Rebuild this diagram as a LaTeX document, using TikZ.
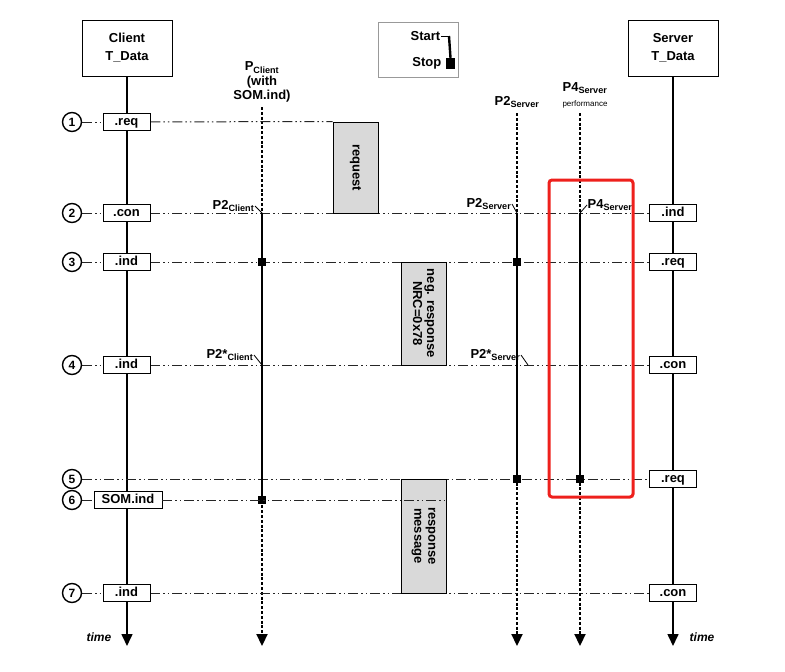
\documentclass[tikz,border=0pt]{standalone}
\usepackage{fontspec}
\setmainfont{Liberation Sans}
\usetikzlibrary{arrows.meta}
\usetikzlibrary{calc}

\definecolor{markred}{RGB}{238,32,28}

\pgfdeclarelayer{bg}
\pgfsetlayers{bg,main}

\tikzset{
  entity/.style={draw, fill=white, line width=0.8pt, minimum width=90pt, minimum height=56pt, align=center, font=\bfseries\fontsize{13}{18}\selectfont},
  prim/.style={draw, fill=white, line width=0.8pt, minimum width=47pt, minimum height=17pt, inner sep=1pt, text height=9.5pt, text depth=2.5pt, font=\bfseries\fontsize{13}{14}\selectfont},
  stepnum/.style={circle, draw, line width=1.4pt, minimum size=19pt, inner sep=0pt, font=\bfseries\fontsize{12}{12}\selectfont},
  msgbox/.style={draw, fill=black!15, line width=1pt, minimum width=45pt},
  msgtext/.style={rotate=-90, align=center, font=\bfseries\fontsize{13}{14}\selectfont},
  rowline/.style={line width=1pt, black!85, dash pattern=on 10pt off 3pt on 1.5pt off 3pt on 1.5pt off 3pt},
  timeline/.style={line width=1.6pt, -{Triangle[width=11pt,length=12pt]}},
  pline/.style={line width=2.2pt, dash pattern=on 3pt off 1.8pt, -{Triangle[width=11pt,length=12pt]}},
  active/.style={line width=2.4pt},
  stopsq/.style={fill=black, minimum size=8.5pt, inner sep=0pt},
  plabel/.style={font=\bfseries\fontsize{13}{14}\selectfont, inner sep=0.5pt},
  timelabel/.style={font=\bfseries\itshape\fontsize{12}{12}\selectfont},
}

\begin{document}
\begin{tikzpicture}[x=1pt, y=-1pt]
\useasboundingbox (0,0) rectangle (785,672);

\node[entity] (client) at (127,48) {Client\\T\_Data};
\node[entity] (server) at (673,48) {Server\\T\_Data};

\node[draw=black!40, line width=0.8pt, minimum width=80pt, minimum height=55pt] (legend) at (418,49.5) {};
\node[plabel, anchor=east] (start) at (441,36) {Start};
\node[plabel, anchor=east] (stop) at (442,63) {Stop};
\node[fill=black, minimum width=9.5pt, minimum height=11pt, inner sep=0pt] (stopbox) at (450.5,63.5) {};
\draw[line width=0.8pt] (start.east) -- ++(8,0) coordinate (starttop);
\draw[line width=2.4pt] (starttop) -- (stopbox.north);

\node[plabel, align=center, font=\bfseries\fontsize{13}{14.5}\selectfont] (pclient) at (262,82) {P\textsubscript{Client}\\(with\\SOM.ind)};
\node[plabel] (p2server) at (517,102) {P2\textsubscript{Server}};
\node[plabel] (p4server) at (585,88) {P4\textsubscript{Server}};
\node[font=\fontsize{8}{9}\selectfont] (perf) at (585,104) {performance};

\node[stepnum] (n1) at (72,122) {1};
\node[stepnum] (n2) at (72,213) {2};
\node[stepnum] (n3) at (72,262) {3};
\node[stepnum] (n4) at (72,365) {4};
\node[stepnum] (n5) at (72,479) {5};
\node[stepnum] (n6) at (72,500) {6};
\node[stepnum] (n7) at (72,593) {7};

\node[prim] (req1) at (126.5,122) {.req};
\node[prim] (con2) at (126.5,213) {.con};
\node[prim] (ind3) at (126.5,262) {.ind};
\node[prim] (ind4) at (126.5,365) {.ind};
\node[prim, minimum width=68pt] (som6) at (128,500) {SOM.ind};
\node[prim] (ind7) at (126.5,593) {.ind};

\node[prim] (sind2) at (673,213) {.ind};
\node[prim] (sreq3) at (673,262) {.req};
\node[prim] (scon4) at (673,365) {.con};
\node[prim] (sreq5) at (673,479) {.req};
\node[prim] (scon7) at (673,593) {.con};

\node[msgbox, minimum height=91pt] (reqmsg) at (355.5,167.5) {};
\node[msgtext] (reqtext) at (reqmsg) {request};
\node[msgbox, minimum height=103pt] (negmsg) at (423.5,313.5) {};
\node[msgtext] (negtext) at (negmsg) {neg. response\\NRC=0x78};
\node[msgbox, minimum height=114pt] (respmsg) at (423.5,536) {};
\node[msgtext] (resptext) at (respmsg) {response\\message};

\coordinate (cend) at (127,646);
\coordinate (send) at (673,646);
\coordinate (pctop) at (262,107);
\coordinate (pcend) at (262,646);
\coordinate (p2top) at (517,113);
\coordinate (p2end) at (517,646);
\coordinate (p4top) at (580,113);
\coordinate (p4end) at (580,646);

\node[stopsq] (pc3) at (262,262) {};
\node[stopsq] (pc6) at (262,500) {};
\node[stopsq] (p23) at (517,262) {};
\node[stopsq] (p25) at (517,479) {};
\node[stopsq] (p45) at (580,479) {};

\begin{pgfonlayer}{bg}
  \draw[timeline] (client) -- (cend);
  \draw[timeline] (server) -- (send);
  \draw[pline] (pctop) -- (pcend);
  \draw[pline] (p2top) -- (p2end);
  \draw[pline] (p4top) -- (p4end);

  \draw[rowline] (n1) -- (req1);
  \draw[rowline] (req1) -- (reqmsg.north west);
  \draw[rowline] (n2) -- (con2);
  \draw[rowline] (con2) -- (sind2);
  \draw[rowline] (n3) -- (ind3);
  \draw[rowline] (ind3) -- (sreq3);
  \draw[rowline] (n4) -- (ind4);
  \draw[rowline] (ind4) -- (scon4);
  \draw[rowline] (n5) -- (sreq5);
  \draw[rowline] (n6) -- (som6);
  \draw[rowline] (n7) -- (ind7);
  \draw[rowline] (ind7) -- (scon7);

  \draw[active] (262,213) -- (pc6.center);
  \draw[active] (517,213) -- (p25.center);
  \draw[active] (580,213) -- (p45.center);
\end{pgfonlayer}

\draw[rowline] (som6) -- (respmsg.east |- som6);

\node[plabel, anchor=east] (p2c) at (255,206) {P2\textsubscript{Client}};
\draw[line width=0.8pt] (p2c.east) -- (262,213);
\node[plabel, anchor=east] (p2s) at (512,204) {P2\textsubscript{Server}};
\draw[line width=0.8pt] (p2s.east) -- (517,213);
\node[plabel, anchor=west] (p4s) at (587,205) {P4\textsubscript{Server}};
\draw[line width=0.8pt] (580,213) -- (p4s.west);
\node[plabel, anchor=east] (p2sc) at (254,355) {P2*\textsubscript{Client}};
\draw[line width=0.8pt] (p2sc.east) -- (262,365);
\node[plabel, anchor=east] (p2ss) at (521,355) {P2*\textsubscript{Server}};
\draw[line width=0.8pt] (p2ss.east) -- (528,365);

\draw[markred, line width=3pt, rounded corners=3pt] (549,180) rectangle (633,497);

\node[timelabel] (tleft) at (99,637) {time};
\node[timelabel] (tright) at (702,637) {time};
\end{tikzpicture}
\end{document}
